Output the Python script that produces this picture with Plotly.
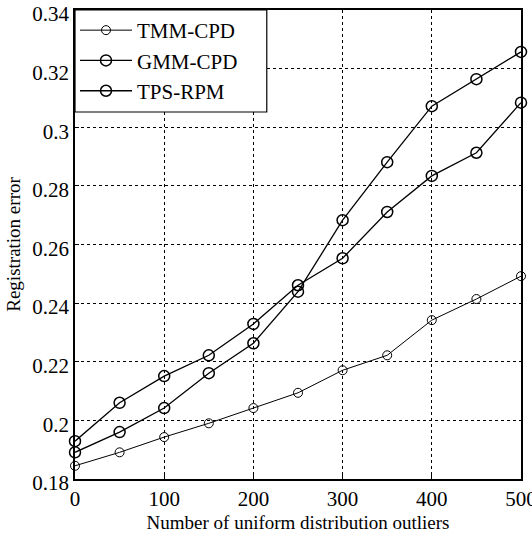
import plotly.graph_objects as go

outliers = [0, 50, 100, 150, 200, 250, 300, 350, 400, 450, 500]
tmm_cpd = [0.1845, 0.1891, 0.1943, 0.1990, 0.2042, 0.2094, 0.2171, 0.2222, 0.2342, 0.2414, 0.2492]
gmm_cpd = [0.1929, 0.2060, 0.2151, 0.2222, 0.2329, 0.2461, 0.2553, 0.2711, 0.2834, 0.2913, 0.3084]
tps_rpm = [0.1891, 0.1960, 0.2042, 0.2161, 0.2263, 0.2439, 0.2683, 0.2881, 0.3072, 0.3164, 0.3257]

x_ticks = [0, 100, 200, 300, 400, 500]
y_ticks = [0.18, 0.2, 0.22, 0.24, 0.26, 0.28, 0.3, 0.32, 0.34]
y_labels = ["0.18", "0.2", "0.22", "0.24", "0.26", "0.28", "0.3", "0.32", "0.34"]

font = "Liberation Serif, Times New Roman, serif"

fig = go.Figure()
series = [("TMM-CPD", tmm_cpd, 1.0, 1.0, 9), ("GMM-CPD", gmm_cpd, 1.3, 1.5, 11), ("TPS-RPM", tps_rpm, 1.3, 1.5, 11)]
for name, ys, lw, mw, ms in series:
    fig.add_trace(go.Scatter(
        x=outliers, y=ys, name=name, mode="lines+markers",
        line=dict(color="black", width=lw),
        marker=dict(symbol="circle-open", size=ms, color="black", line=dict(width=mw)),
        cliponaxis=False,
    ))

# legend frame (wider than plotly's auto-sized box, as in the reference)
fig.add_shape(
    type="rect", xref="paper", yref="paper",
    x0=0, x1=0.43, y0=0.7825, y1=1,
    fillcolor="white", line=dict(color="black", width=1.2), layer="above",
)

fig.update_layout(
    width=532, height=539,
    margin=dict(l=75, r=11, t=10, b=60),
    paper_bgcolor="white", plot_bgcolor="white",
    font=dict(family=font, size=21, color="black"),
    showlegend=True,
    legend=dict(
        x=0, y=1, xanchor="left", yanchor="top",
        bgcolor="rgba(0,0,0,0)", borderwidth=0,
        font=dict(family=font, size=21, color="black"),
        itemwidth=52,
    ),
)
fig.update_xaxes(
    range=[0, 500], tickvals=x_ticks, ticktext=[str(v) for v in x_ticks],
    showline=True, linecolor="black", linewidth=1.5, mirror=True,
    ticks="inside", ticklen=4, tickcolor="black",
    showgrid=True, gridcolor="black", gridwidth=1, griddash="dot",
    zeroline=False, automargin=False, ticklabeloverflow="allow",
    title=dict(text="Number of uniform distribution outliers", standoff=6, font=dict(size=19)),
)
fig.update_yaxes(
    range=[0.18, 0.34], tickvals=y_ticks, ticktext=y_labels,
    showline=True, linecolor="black", linewidth=1.5, mirror=True,
    ticks="inside", ticklen=4, tickcolor="black",
    showgrid=True, gridcolor="black", gridwidth=1, griddash="dot",
    zeroline=False, automargin=False, ticklabeloverflow="allow",
    ticklabelshift=4,
    title=dict(text="Registration error", standoff=7, font=dict(size=19)),
)

fig.write_html(
    "out.html",
    config={"displayModeBar": False},
    post_script="document.body.style.margin='0';document.body.style.overflow='hidden';",
)
